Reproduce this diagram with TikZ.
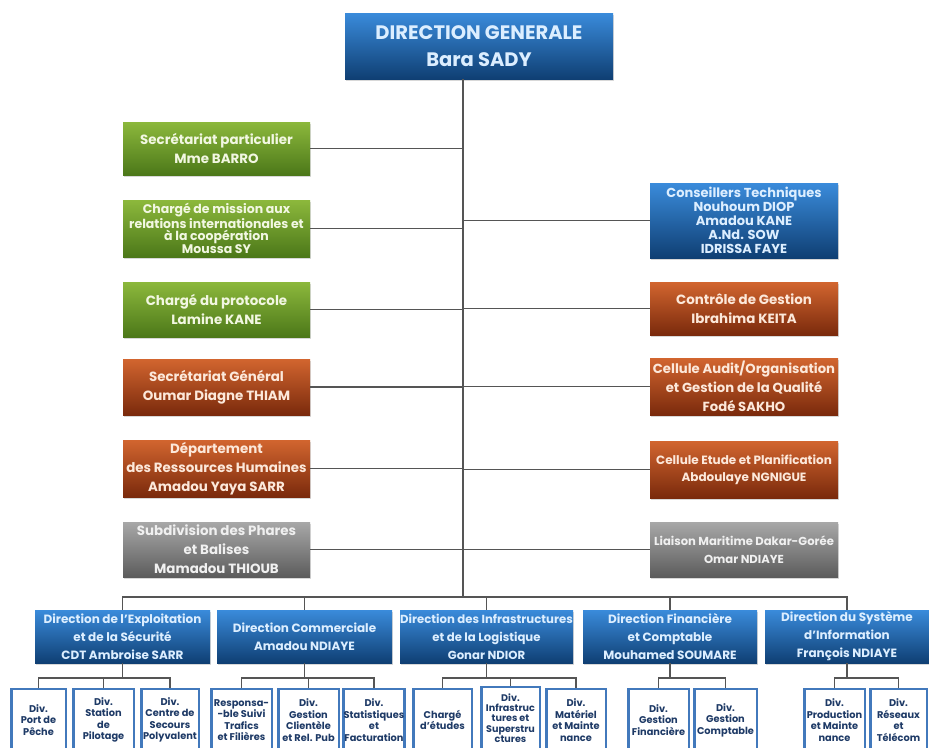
\documentclass[tikz,border=0pt]{standalone}
\usepackage{fontspec}
\setmainfont{Poppins}
\usetikzlibrary{shadows}
\definecolor{bluetop}{HTML}{3A8BDB}
\definecolor{bluebot}{HTML}{0F3F73}
\definecolor{greentop}{HTML}{8CB83C}
\definecolor{greenbot}{HTML}{4C7819}
\definecolor{orangetop}{HTML}{D2652F}
\definecolor{orangebot}{HTML}{7A2A0C}
\definecolor{graytop}{HTML}{A8A8A8}
\definecolor{graybot}{HTML}{5C5C5C}
\definecolor{linec}{HTML}{555555}
\definecolor{subborder}{HTML}{4279BC}
\definecolor{subtext}{HTML}{1E3A66}
\definecolor{bluetext}{HTML}{DCEEFF}
\definecolor{greentext}{HTML}{F2F7E2}
\definecolor{orangetext}{HTML}{FCE8DA}
\definecolor{graytext}{HTML}{F0F0F0}
\tikzset{
  box/.style={rectangle, inner sep=0pt, align=center,
    font=\bfseries\fontsize{13.4}{19}\selectfont,
    drop shadow={shadow xshift=1pt, shadow yshift=-2pt, opacity=0.3}},
  bluebox/.style={box, top color=bluetop, bottom color=bluebot, text=bluetext},
  greenbox/.style={box, top color=greentop, bottom color=greenbot, text=greentext},
  orangebox/.style={box, top color=orangetop, bottom color=orangebot, text=orangetext},
  graybox/.style={box, top color=graytop, bottom color=graybot, text=graytext},
  leftbox/.style={minimum width=187pt},
  rightbox/.style={minimum width=188pt},
  dirbox/.style={bluebox, minimum height=53pt, font=\bfseries\fontsize{12}{18}\selectfont},
  subbox/.style={rectangle, draw=subborder, line width=2.5pt, fill=white, inner sep=0pt,
    align=center, text=subtext, minimum height=62pt,
    font=\bfseries\fontsize{9.8}{11.5}\selectfont},
  wire/.style={draw=linec, line width=1.8pt},
}
\begin{document}
\begin{tikzpicture}[x=1pt,y=-1pt]
\useasboundingbox (0,0) rectangle (929,747);
\fill[white] (0,0) rectangle (929,747);
\coordinate (bus) at (463,597);

% top
\node[bluebox, minimum width=268pt, minimum height=66pt,
  font=\bfseries\fontsize{19.5}{27}\selectfont] (top) at (479,46) {DIRECTION GENERALE\\Bara SADY};

% left column
\node[greenbox, leftbox, minimum height=53pt] (L1) at (216.5,148.5) {Secrétariat particulier\\Mme BARRO};
\node[greenbox, leftbox, minimum height=57pt, font=\bfseries\fontsize{12.5}{12.5}\selectfont] (L2) at (216.5,228.5)
  {Chargé de mission aux\\relations internationales et\\à la coopération\\Moussa SY};
\node[greenbox, leftbox, minimum height=55pt] (L3) at (216.5,309.5) {Chargé du protocole\\Lamine KANE};
\node[orangebox, leftbox, minimum height=56pt] (L4) at (216.5,387) {Secrétariat Général\\Oumar Diagne THIAM};
\node[orangebox, leftbox, minimum height=57pt] (L5) at (216.5,468.5) {Département\\des Ressources Humaines\\Amadou Yaya SARR};
\node[graybox, leftbox, minimum height=55pt] (L6) at (216.5,549.5) {Subdivision des Phares\\et Balises\\Mamadou THIOUB};

% right column
\node[bluebox, rightbox, minimum height=75pt, font=\bfseries\fontsize{13}{14}\selectfont] (R1) at (744,220.5)
  {Conseillers Techniques\\Nouhoum DIOP\\Amadou KANE\\A.Nd. SOW\\IDRISSA FAYE};
\node[orangebox, rightbox, minimum height=53pt] (R2) at (744,308.5) {Contrôle de Gestion\\Ibrahima KEITA};
\node[orangebox, rightbox, minimum height=57pt, font=\bfseries\fontsize{13.2}{19}\selectfont] (R3) at (744,386.5) {Cellule Audit/Organisation\\et Gestion de la Qualité\\Fodé SAKHO};
\node[orangebox, rightbox, minimum height=57pt, font=\bfseries\fontsize{12}{17}\selectfont] (R4) at (744,469.5) {Cellule Etude et Planification\\Abdoulaye NGNIGUE};
\node[graybox, rightbox, minimum height=55pt, font=\bfseries\fontsize{11.6}{18}\selectfont] (R5) at (744,549.5) {Liaison Maritime Dakar-Gorée\\Omar NDIAYE};

% directions
\node[dirbox, minimum width=175pt] (D1) at (122.5,636.5) {Direction de l'Exploitation\\et de la Sécurité\\CDT Ambroise SARR};
\node[dirbox, minimum width=175pt] (D2) at (304.5,636.5) {Direction Commerciale\\Amadou NDIAYE};
\node[dirbox, minimum width=173pt, font=\bfseries\fontsize{11.7}{18}\selectfont] (D3) at (486.5,636.5) {Direction des Infrastructures\\et de la Logistique\\Gonar NDIOR};
\node[dirbox, minimum width=174pt] (D4) at (670,636.5) {Direction Financière\\et Comptable\\Mouhamed SOUMARE};
\node[dirbox, minimum width=164pt] (D5) at (847,636.5) {Direction du Système\\d'Information\\François NDIAYE};

% sub boxes
\node[subbox, minimum width=54.5pt] (S11) at (38.5,720) {Div.\\Port de\\Pêche};
\node[subbox, minimum width=60.5pt] (S12) at (103.5,720) {Div.\\Station\\de\\Pilotage};
\node[subbox, minimum width=57.5pt] (S13) at (170,720) {Div.\\Centre de\\Secours\\Polyvalent};
\node[subbox, minimum width=60.5pt] (S21) at (241.5,720) {Responsa-\\-ble Suivi\\Trafics\\et Filières};
\node[subbox, minimum width=60.5pt] (S22) at (308.5,720) {Div.\\Gestion\\Clientèle\\et Rel. Pub};
\node[subbox, minimum width=59.5pt] (S23) at (374,720) {Div.\\Statistiques\\et\\Facturation};
\node[subbox, minimum width=58.5pt] (S31) at (442.5,720) {Chargé\\d'études};
\node[subbox, minimum width=58.5pt, font=\bfseries\fontsize{9.6}{10.3}\selectfont] (S32) at (510.5,718) {Div.\\Infrastruc\\tures et\\Superstru\\ctures};
\node[subbox, minimum width=59.5pt] (S33) at (576,720) {Div.\\Matériel\\et Mainte\\nance};
\node[subbox, minimum width=60.5pt] (S41) at (658.5,720) {Div.\\Gestion\\Financière};
\node[subbox, minimum width=62.5pt] (S42) at (725.5,720) {Div.\\Gestion\\Comptable};
\node[subbox, minimum width=60.5pt] (S51) at (834.5,720) {Div.\\Production\\et Mainte\\nance};
\node[subbox, minimum width=56.5pt] (S52) at (898.5,720) {Div.\\Réseaux\\et\\Télécom};

% connectors
\draw[wire] (top.south -| bus) -- (bus);
\foreach \n in {L1,L2,L3,L4,L5,L6} \draw[wire] (\n.east) -- (\n.east -| bus);
\foreach \n in {R1,R2,R3,R4,R5} \draw[wire] (\n.west) -- (\n.west -| bus);
\draw[wire] (D1.north) |- (bus) -| (D5.north);
\foreach \n in {D2,D3,D4} \draw[wire] (\n.north) -- (\n.north |- bus);

\coordinate (b1) at (122.5,678);
\coordinate (b2) at (304.5,678);
\coordinate (b3) at (486.5,678);
\coordinate (b4) at (670,678);
\coordinate (b5) at (847,678);
\draw[wire] (D1.south) -- (b1);
\draw[wire] (D2.south) -- (b2);
\draw[wire] (D3.south) -- (b3);
\draw[wire] (D4.south) -- (b4);
\draw[wire] (D5.south) -- (b5);
\draw[wire] (S11.north) |- (b1) -| (S13.north);
\draw[wire] (S12.north) -- (S12.north |- b1);
\draw[wire] (S21.north) |- (b2) -| (S23.north);
\draw[wire] (S22.north) -- (S22.north |- b2);
\draw[wire] (S31.north) |- (b3) -| (S33.north);
\draw[wire] (S32.north) -- (S32.north |- b3);
\draw[wire] (S41.north) |- (b4) -| (S42.north);
\draw[wire] (S51.north) |- (b5) -| (S52.north);
\end{tikzpicture}
\end{document}
